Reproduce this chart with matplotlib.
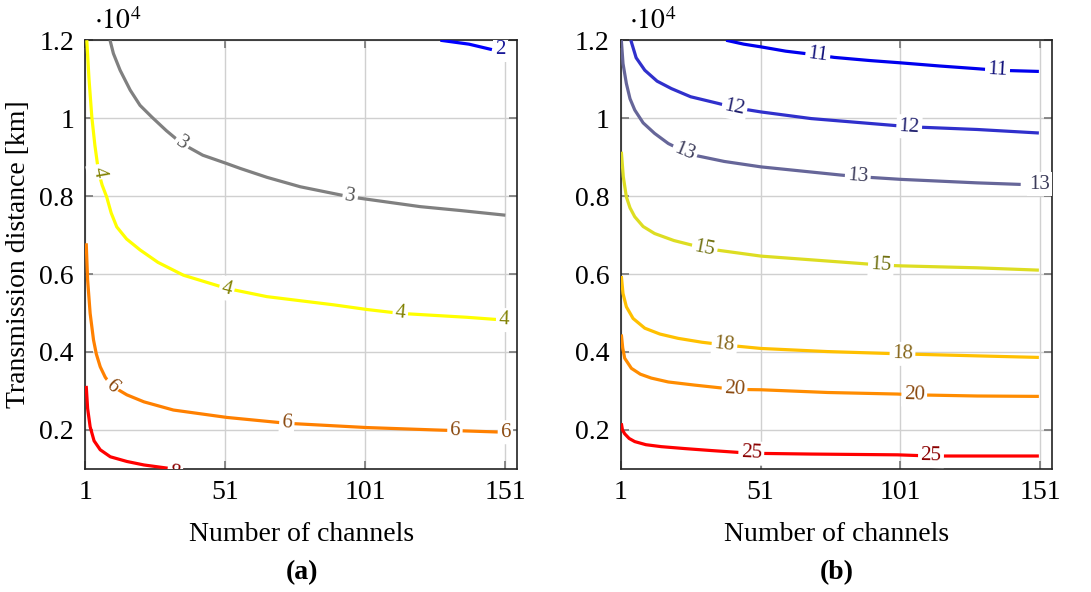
#!/usr/bin/env python3
# contour lines of required ... vs number of channels and transmission distance
import numpy as np
import matplotlib.pyplot as plt

plt.rcParams['font.family'] = ['Liberation Serif', 'DejaVu Serif']
plt.rcParams['mathtext.fontset'] = 'stix'

# ---- panel (a) --------------------------------------------------------------
# distances in units of 10^4 km
a2_x = [127.8, 138, 146.2]
a2_y = [1.2, 1.19, 1.176]

a3_x = [9.9, 11.1, 13.5, 17.1, 20.6, 24.8, 30, 35.5, 43, 51, 56.4, 66, 77.8, 95.6, 101.6, 120.6, 135, 151]
a3_y = [1.2, 1.166, 1.123, 1.072, 1.033, 1.003, 0.968, 0.935, 0.905, 0.885, 0.871, 0.848, 0.824, 0.798, 0.792, 0.773, 0.763, 0.751]

a4_x = [1.6, 2.4, 3.4, 4.5, 5.8, 7.1, 8.7, 10.3, 12.3, 15.8, 20.6, 27, 36.1, 51.6, 65.9, 89.7, 101.6, 113.5, 137.3, 150.4]
a4_y = [1.2, 1.1, 1.003, 0.93, 0.862, 0.828, 0.798, 0.757, 0.721, 0.69, 0.662, 0.63, 0.597, 0.563, 0.542, 0.521, 0.509, 0.499, 0.489, 0.482]

a6_x = [1.4, 1.9, 2.8, 4.0, 5.0, 6.4, 8.2, 10.5, 15.9, 22, 32.5, 51.6, 73, 101.6, 125.4, 151]
a6_y = [0.679, 0.585, 0.499, 0.431, 0.395, 0.362, 0.335, 0.313, 0.29, 0.272, 0.251, 0.232, 0.217, 0.206, 0.2, 0.194]

a8_x = [1.4, 1.9, 2.8, 4.2, 6.4, 10, 15.9, 22, 30.2, 36]
a8_y = [0.313, 0.255, 0.208, 0.172, 0.149, 0.131, 0.119, 0.11, 0.102, 0.097]

# ---- panel (b) --------------------------------------------------------------
b11_x = [38.7, 45, 51.2, 60, 71.5, 77.4, 90, 101.2, 115, 128.5, 135.8, 150.6]
b11_y = [1.2, 1.19, 1.183, 1.172, 1.162, 1.156, 1.148, 1.142, 1.134, 1.127, 1.123, 1.12]

b12_x = [4.6, 6.5, 9.6, 14, 19.1, 26, 35.8, 41.7, 51.2, 69.1, 97.7, 104.2, 128.5, 150.6]
b12_y = [1.2, 1.155, 1.123, 1.095, 1.076, 1.055, 1.038, 1.027, 1.016, 0.999, 0.982, 0.978, 0.971, 0.962]

b13_x = [1.2, 1.8, 3.0, 4.3, 6.0, 9.0, 13.1, 18, 23.9, 28.6, 38, 51.2, 79.8, 85.8, 101.2, 128.5, 144.1]
b13_y = [1.2, 1.14, 1.089, 1.05, 1.021, 0.988, 0.961, 0.935, 0.914, 0.903, 0.889, 0.875, 0.854, 0.85, 0.843, 0.834, 0.83]

b15_x = [1.2, 1.9, 3.0, 4.3, 6.0, 9.0, 13.1, 20, 31, 36.9, 51.2, 87, 94.1, 101.2, 128.5, 150.6]
b15_y = [0.914, 0.85, 0.798, 0.77, 0.747, 0.722, 0.704, 0.686, 0.666, 0.66, 0.646, 0.627, 0.623, 0.621, 0.616, 0.61]

b18_x = [1.2, 1.8, 3.0, 5.4, 9.6, 15, 21.5, 30, 38.1, 51.2, 75, 101.8, 128.5, 150.6]
b18_y = [0.595, 0.55, 0.516, 0.486, 0.461, 0.446, 0.435, 0.425, 0.418, 0.409, 0.401, 0.395, 0.39, 0.386]

b20_x = [1.2, 1.7, 2.4, 4.8, 8, 11.9, 18, 27.4, 41.7, 51.2, 75, 100, 106, 128.5, 150.6]
b20_y = [0.445, 0.41, 0.384, 0.358, 0.343, 0.333, 0.323, 0.315, 0.304, 0.303, 0.296, 0.292, 0.29, 0.287, 0.286]

b25_x = [1.2, 1.6, 2.4, 4.0, 6.0, 10, 15.5, 24, 33.4, 47.7, 69.1, 100, 112, 150.6]
b25_y = [0.217, 0.2, 0.19, 0.178, 0.17, 0.162, 0.157, 0.152, 0.147, 0.14, 0.138, 0.136, 0.133, 0.133]

# (x, y, label, line colour, label colour, label x positions)
curves_a = [
    (a2_x, a2_y, '2', '#0000ff', '#1a1a99', [149.2]),
    (a3_x, a3_y, '3', '#808080', '#555555', [35.5, 95.6]),
    (a4_x, a4_y, '4', '#ffff00', '#808000', [5.8, 51.6, 113.5, 150.4]),
    (a6_x, a6_y, '6', '#ff8000', '#8b4a10', [10.5, 73, 133, 151]),
    (a8_x, a8_y, '8', '#ff0000', '#8b0000', [33]),
]
curves_b = [
    (b11_x, b11_y, '11', '#0000ee', '#10107a', [71.5, 135.8]),
    (b12_x, b12_y, '12', '#3030cc', '#20206e', [41.7, 104.2]),
    (b13_x, b13_y, '13', '#666699', '#3c3c5a', [23.9, 85.8, 151]),
    (b15_x, b15_y, '15', '#dddd22', '#707010', [31, 94.1]),
    (b18_x, b18_y, '18', '#ffc000', '#86661a', [38.1, 101.8]),
    (b20_x, b20_y, '20', '#ff8c00', '#8b4a10', [41.7, 106]),
    (b25_x, b25_y, '25', '#ff0000', '#8b0000', [47.7, 112]),
]

xticks = [1, 51, 101, 151]
yticks = [0.2, 0.4, 0.6, 0.8, 1.0, 1.2]
yticklabels = ['0.2', '0.4', '0.6', '0.8', '1', '1.2']

FS = 20

fig = plt.figure(figsize=(10.91, 5.92), dpi=100)
ax_a = fig.add_axes([0.078, 0.208, 0.396, 0.724])
ax_b = fig.add_axes([0.569, 0.208, 0.395, 0.724])


def draw_panel(ax, curves):
    ax.set_xlim(1, 155.2)
    ax.set_ylim(0.1, 1.2)
    ax.set_xticks(xticks)
    ax.set_yticks(yticks)
    ax.set_yticklabels(yticklabels)
    ax.grid(True, color='#d0d0d0', lw=1.0)
    ax.set_axisbelow(True)
    ax.tick_params(direction='in', length=6, width=1.2, color='#777777',
                   top=True, right=True, labelsize=FS, pad=8)
    for s in ax.spines.values():
        s.set_color('#222222')
        s.set_linewidth(1.2)
    fig.canvas.draw()
    for x, y, lab, c, lc, lxs in curves:
        ax.plot(x, y, color=c, lw=2.3, solid_capstyle='butt', zorder=3)
        for lx in lxs:
            ly = np.interp(lx, x, y)
            if lab == '8':
                ly = 0.088  # label sits on the lower edge and gets clipped
            # local slope in display coords for label rotation
            x0, x1 = lx - 1.5, lx + 1.5
            p0 = ax.transData.transform((x0, np.interp(x0, x, y)))
            p1 = ax.transData.transform((x1, np.interp(x1, x, y)))
            ang = np.degrees(np.arctan2(p1[1] - p0[1], p1[0] - p0[0]))
            ax.text(lx, ly, lab, color=lc, fontsize=15, ha='center', va='center',
                    rotation=ang, rotation_mode='anchor', zorder=4, clip_on=True,
                    bbox=dict(boxstyle='square,pad=0.12', fc='white', ec='none'))
    ax.text(0.02, 1.012, r'$\cdot 10^4$', transform=ax.transAxes, fontsize=FS,
            ha='left', va='bottom')
    ax.set_xlabel('Number of channels', fontsize=FS, labelpad=12)


draw_panel(ax_a, curves_a)
draw_panel(ax_b, curves_b)
ax_a.set_ylabel('Transmission distance [km]', fontsize=FS, labelpad=6)

fig.text(0.2765, 0.012, '(a)', fontsize=FS, fontweight='bold', ha='center', va='bottom')
fig.text(0.7665, 0.012, '(b)', fontsize=FS, fontweight='bold', ha='center', va='bottom')

fig.savefig('out.png', dpi=100)
